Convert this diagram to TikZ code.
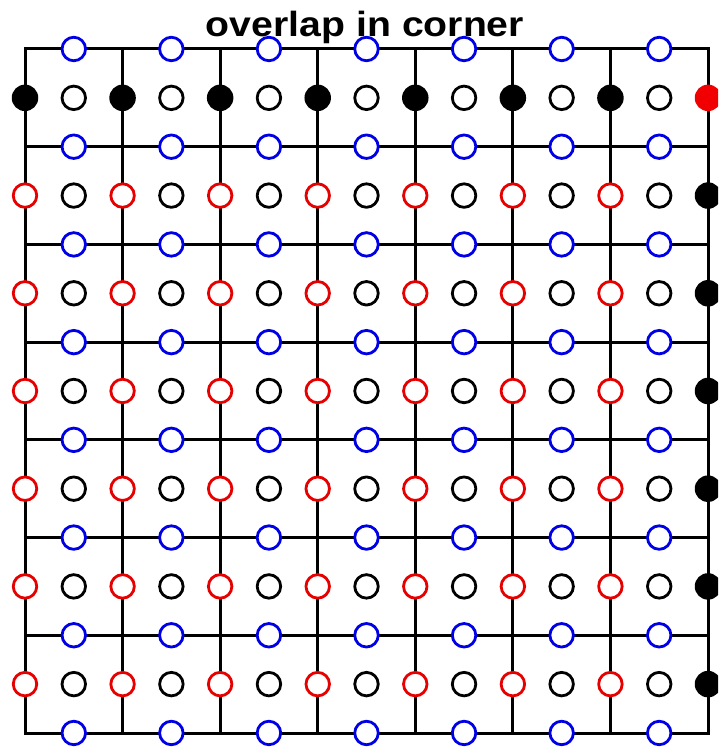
\documentclass[tikz,border=0pt]{standalone}
\usepackage{fontspec}
\setmainfont{Liberation Sans}
\begin{document}
\begin{tikzpicture}[x=1pt,y=-1pt,
  gridline/.style={line width=3pt,black},
  ring/.style={circle,inner sep=0pt,minimum size=23.5pt,line width=2.8pt,fill=white},
  bluering/.style={ring,draw={rgb,255:red,0;green,0;blue,230}},
  redring/.style={ring,draw={rgb,255:red,230;green,0;blue,0}},
  blackring/.style={ring,draw=black},
  blackdot/.style={circle,inner sep=0pt,minimum size=26.5pt,fill=black},
  reddot/.style={circle,inner sep=0pt,minimum size=26.5pt,fill={rgb,255:red,240;green,0;blue,0}},
  titlefont/.style={font=\bfseries\fontsize{35}{35}\selectfont}]
\useasboundingbox (0,0) rectangle (718,751);
\clip (0,0) rectangle (718,751);
\fill[white] (0,0) rectangle (718,751);
\def\dx{97.57}
\def\dy{97.71}
% grid
\foreach \k in {1,...,6} {
  \draw[gridline] (25,{49+\k*\dy}) -- (708,{49+\k*\dy});
  \draw[gridline] ({25+\k*\dx},49) -- ({25+\k*\dx},733);
}
\draw[gridline,line join=miter] (25,49) rectangle (708,733);
% blue rings on horizontal lines
\foreach \k in {0,...,7} \foreach \j in {0,...,6}
  \node[bluering] (b\j-\k) at ({25+(\j+0.5)*\dx},{49+\k*\dy}) {};
% black rings at cell centres
\foreach \k in {0,...,6} \foreach \j in {0,...,6}
  \node[blackring] (c\j-\k) at ({25+(\j+0.5)*\dx},{49+(\k+0.5)*\dy}) {};
% red rings on vertical lines
\foreach \k in {1,...,6} \foreach \j in {0,...,6}
  \node[redring] (r\j-\k) at ({25+\j*\dx},{49+(\k+0.5)*\dy}) {};
% filled black dots on top row
\foreach \j in {0,...,6}
  \node[blackdot] (t\j) at ({25+\j*\dx},{49+0.5*\dy}) {};
% filled black dots on right column
\foreach \k in {1,...,6}
  \node[blackdot] (s\k) at ({25+7*\dx},{49+(\k+0.5)*\dy}) {};
% red corner dot
\node[reddot] (corner) at ({25+7*\dx},{49+0.5*\dy}) {};
% title
\node[titlefont,anchor=base,inner sep=0pt] (title) at (365,36.5) {\scalebox{1.12}[1]{overlap in corner}};
\end{tikzpicture}
\end{document}
